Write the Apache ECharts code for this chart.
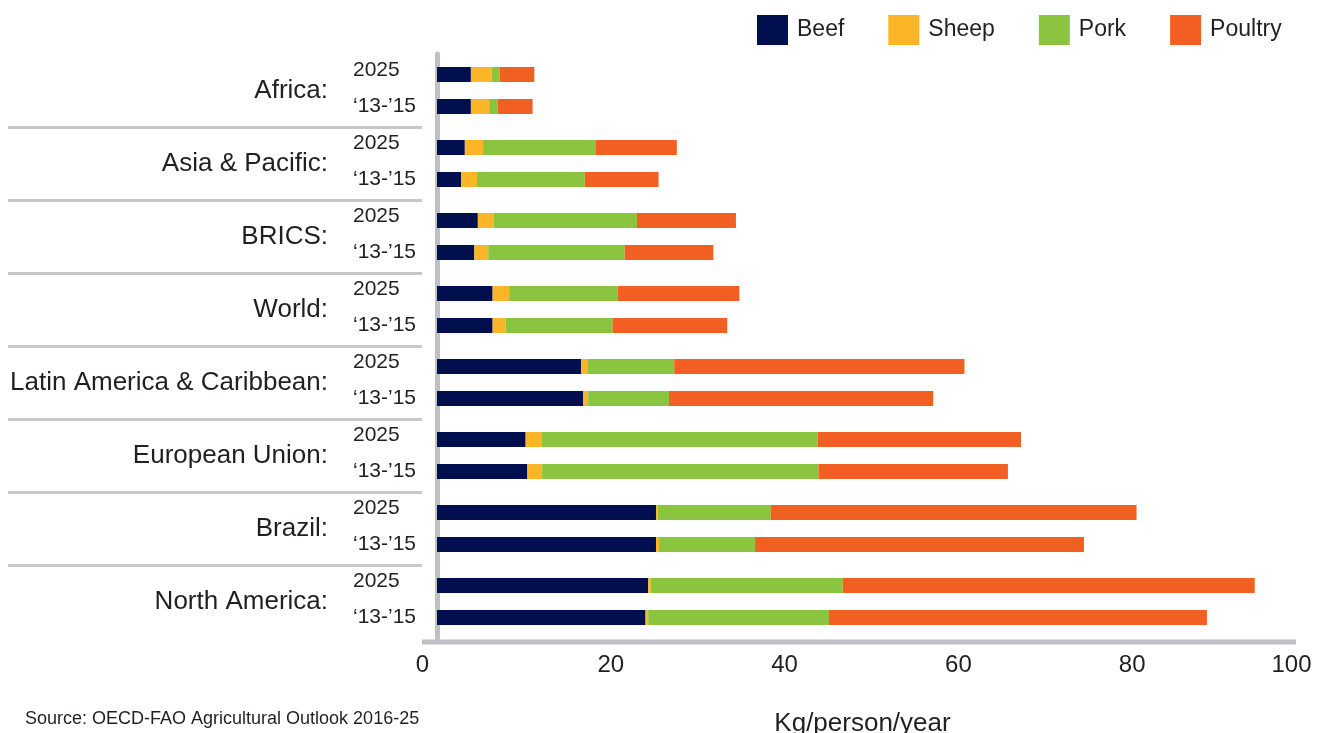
<!DOCTYPE html>
<html>
<head>
<meta charset="utf-8">
<script src="https://cdn.jsdelivr.net/npm/echarts@6/dist/echarts.min.js"></script>
<style>
  html, body { margin: 0; padding: 0; background: #ffffff; }
  #chart { width: 1327px; height: 733px; }
</style>
</head>
<body>
<div id="chart"></div>
<script>
// Per-capita meat consumption, kg/person/year
const regions = ['Africa:', 'Asia & Pacific:', 'BRICS:', 'World:', 'Latin America & Caribbean:', 'European Union:', 'Brazil:', 'North America:'];
const periods = ['2025', '\u201813-\u201915'];
const meats = ['Beef', 'Sheep', 'Pork', 'Poultry'];
const xTicks = [0, 20, 40, 60, 80, 100];

// 2025 projections
const beef2025    = [3.9, 3.2, 4.7, 6.4, 16.6, 10.2, 25.2, 24.3];
const sheep2025   = [2.4, 2.1, 1.8, 1.9, 0.7, 1.8, 0.2, 0.3];
const pork2025    = [0.9, 13.0, 16.5, 12.5, 10.0, 31.8, 13.0, 22.1];
const poultry2025 = [4.0, 9.3, 11.4, 14.0, 33.4, 23.4, 42.1, 47.4];

// 2013-2015 base period
const beefBase    = [3.9, 2.8, 4.3, 6.4, 16.8, 10.4, 25.2, 24.0];
const sheepBase   = [2.1, 1.8, 1.6, 1.5, 0.6, 1.7, 0.35, 0.3];
const porkBase    = [1.0, 12.4, 15.7, 12.3, 9.3, 31.8, 11.05, 20.8];
const poultryBase = [4.0, 8.5, 10.2, 13.2, 30.4, 21.8, 37.85, 43.5];

const meatColors = ['#020f4f', '#fbb527', '#8bc540', '#f15f22'];
const textColor = '#231f20';
const FONT = '"Liberation Sans", Arial, sans-serif';

const periodData = [
  [beef2025, sheep2025, pork2025, poultry2025],
  [beefBase, sheepBase, porkBase, poultryBase]
];
// vertical nudge of the period label relative to its bar
const periodLabelY = [3.5, 7.5];

const series = [];
periodData.forEach(function (sets, p) {
  sets.forEach(function (values, m) {
    const s = {
      type: 'bar',
      name: meats[m],
      stack: 'p' + p,
      xAxisIndex: 0,
      yAxisIndex: 0,
      barWidth: 15,
      barGap: '113%',
      itemStyle: { color: meatColors[m] },
      emphasis: { disabled: true },
      data: values
    };
    if (m === 0) {
      s.label = {
        show: true,
        position: [-84, periodLabelY[p]],
        align: 'left',
        verticalAlign: 'middle',
        formatter: periods[p],
        fontFamily: FONT,
        fontSize: 21,
        color: textColor
      };
    }
    series.push(s);
  });
});

const chart = echarts.init(document.getElementById('chart'));
chart.setOption({
  animation: false,
  backgroundColor: '#ffffff',
  textStyle: { fontFamily: FONT, color: textColor },
  title: {
    text: 'Source: OECD-FAO Agricultural Outlook 2016-25',
    left: 25,
    top: 710,
    padding: 0,
    textStyle: { fontFamily: FONT, fontSize: 18, fontWeight: 'normal', color: textColor }
  },
  legend: {
    data: meats,
    left: 757,
    top: 15,
    icon: 'rect',
    itemWidth: 31,
    itemHeight: 30,
    itemGap: 44,
    padding: 0,
    selectedMode: false,
    textStyle: { fontFamily: FONT, fontSize: 23, color: textColor, padding: [0, 0, 0, 4] }
  },
  grid: [
    { left: 437, right: 21, top: 54, height: 584, outerBoundsMode: 'none', containLabel: false },
    { left: 8, width: 414, top: 54, height: 584, outerBoundsMode: 'none', containLabel: false }
  ],
  xAxis: [
    {
      gridIndex: 0,
      type: 'value',
      min: xTicks[0],
      max: xTicks[xTicks.length - 1],
      interval: xTicks[1] - xTicks[0],
      axisLine: { show: false },
      axisTick: { show: false },
      splitLine: { show: false },
      axisLabel: {
        margin: 15,
        fontFamily: FONT,
        fontSize: 24,
        color: textColor,
        formatter: function (v) {
          if (v === xTicks[0] || v === xTicks[xTicks.length - 1]) return '{edge|' + v + '}';
          return String(v);
        },
        rich: {
          edge: { fontFamily: FONT, fontSize: 24, color: textColor, padding: [0, 29, 0, 0] }
        }
      },
      name: 'Kg/person/year',
      nameLocation: 'middle',
      nameGap: 73,
      nameMoveOverlap: false,
      nameTextStyle: { fontFamily: FONT, fontSize: 26, color: textColor, padding: [0, 18, 0, 0] }
    },
    { gridIndex: 1, type: 'value', show: false, min: 0, max: 1 }
  ],
  yAxis: [
    {
      gridIndex: 0,
      type: 'category',
      data: regions,
      inverse: true,
      offset: 12,
      axisLine: { show: true, lineStyle: { color: '#c0c0c4', width: 5 } },
      axisTick: { show: false },
      splitLine: { show: false },
      axisLabel: {
        margin: 97,
        fontFamily: FONT,
        fontSize: 26,
        color: textColor,
        padding: [0, 0, 10, 0]
      }
    },
    {
      gridIndex: 1,
      type: 'category',
      data: regions,
      inverse: true,
      axisLine: { show: false },
      axisTick: { show: false },
      axisLabel: { show: false },
      splitLine: {
        show: true,
        showMinLine: false,
        showMaxLine: false,
        lineStyle: { color: '#c8c8cc', width: 3 }
      }
    }
  ],
  graphic: [
    {
      type: 'line',
      silent: true,
      shape: { x1: 422, y1: 642, x2: 1296, y2: 642 },
      style: { stroke: '#c0c0c4', lineWidth: 5 }
    }
  ],
  series: series
});
</script>
</body>
</html>
